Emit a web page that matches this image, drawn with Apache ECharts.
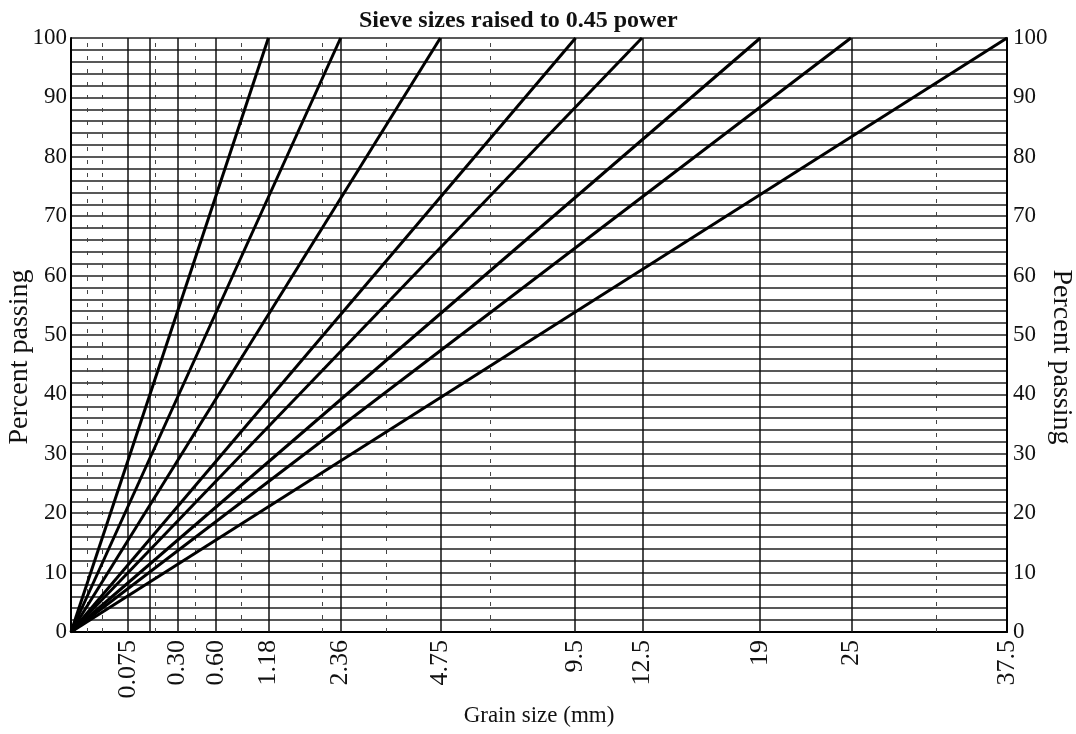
<!DOCTYPE html>
<html>
<head>
<meta charset="utf-8">
<script src="https://cdn.jsdelivr.net/npm/echarts@6/dist/echarts.min.js"></script>
<style>
html,body{margin:0;padding:0;background:#fff;}
#chart{width:1076px;height:734px;}
</style>
</head>
<body>
<div id="chart"></div>
<script>
// ---- data ----
const POWER = 0.45;
const maxSizes = [1.18, 2.36, 4.75, 9.5, 12.5, 19, 25, 37.5];          // maximum-density lines (mm)
const labeledSieves = [0.075, 0.30, 0.60, 1.18, 2.36, 4.75, 9.5, 12.5, 19, 25, 37.5];
const sieveLabels = ['0.075', '0.30', '0.60', '1.18', '2.36', '4.75', '9.5', '12.5', '19', '25', '37.5'];
const solidSieves = [0.075, 0.15, 0.30, 0.60, 1.18, 2.36, 4.75, 9.5, 12.5, 19, 25];
const dashedSieves = [0.005, 0.02, 0.18, 0.425, 0.85, 2.0, 3.35, 6.3, 31.5];
const percentStart = 0;
const percentEnd = 100;
const yTickLabels = ['0', '10', '20', '30', '40', '50', '60', '70', '80', '90', '100'];

// ---- chart ----
const t = d => Math.pow(d, POWER);
const FONT = '"Liberation Serif", "Times New Roman", serif';
const xMax = t(maxSizes[maxSizes.length - 1]);

const lineSeries = maxSizes.map(D => ({
  type: 'line',
  name: String(D),
  data: [[t(0), percentStart], [t(D), percentEnd]],
  showSymbol: false,
  symbol: 'none',
  lineStyle: { color: '#000', width: 3 },
  z: 10,
  silent: true
}));

const gridSeriesSolid = {
  type: 'line', data: [], silent: true, z: 2,
  markLine: {
    symbol: 'none', silent: true, animation: false,
    label: { show: false },
    lineStyle: { color: '#111', width: 1.5, type: 'solid' },
    data: solidSieves.map(d => ({ xAxis: t(d) }))
  }
};
const gridSeriesDashed = {
  type: 'line', data: [], silent: true, z: 2,
  markLine: {
    symbol: 'none', silent: true, animation: false,
    label: { show: false },
    lineStyle: { color: '#444', width: 1, type: [4, 9] },
    data: dashedSieves.map(d => ({ xAxis: t(d) }))
  }
};

const hLineStyle = { color: '#222', width: 1.5 };

const option = {
  animation: false,
  backgroundColor: '#fff',
  title: {
    text: 'Sieve sizes raised to 0.45 power',
    left: 354,
    top: 4,
    textStyle: { fontFamily: FONT, fontSize: 24, fontWeight: 'bold', color: '#111' }
  },
  grid: { left: 71, right: 69, top: 38, bottom: 102, containLabel: false, outerBoundsMode: 'none' },
  xAxis: {
    type: 'value',
    min: 0,
    max: xMax,
    name: 'Grain size (mm)',
    nameLocation: 'middle',
    nameGap: 72,
    nameMoveOverlap: false,
    nameTextStyle: { fontFamily: FONT, fontSize: 23, color: '#111' },
    axisLine: { show: true, lineStyle: { color: '#000', width: 2 } },
    axisTick: { show: false },
    splitLine: { show: false },
    axisLabel: {
      customValues: labeledSieves.map(t),
      rotate: 90,
      margin: 8,
      hideOverlap: false,
      fontFamily: FONT,
      fontSize: 26,
      color: '#111',
      formatter: function (v) {
        let best = 0, bd = Infinity;
        labeledSieves.forEach((d, i) => { const dd = Math.abs(t(d) - v); if (dd < bd) { bd = dd; best = i; } });
        return sieveLabels[best];
      }
    }
  },
  yAxis: [
    {
      type: 'value', min: 0, max: 100, interval: 10, position: 'left',
      name: 'Percent passing',
      nameLocation: 'middle',
      nameGap: 37,
      nameMoveOverlap: false,
      nameTextStyle: { fontFamily: FONT, fontSize: 28, color: '#111', padding: [0, 44, 0, 0] },
      axisLine: { show: true, lineStyle: { color: '#000', width: 2 } },
      axisTick: { show: false },
      axisLabel: {
        margin: 4, fontFamily: FONT, fontSize: 23, color: '#111',
        formatter: v => yTickLabels[Math.round(v / 10)]
      },
      splitLine: { show: true, lineStyle: hLineStyle },
      minorTick: { show: false, splitNumber: 5 },
      minorSplitLine: { show: true, lineStyle: hLineStyle }
    },
    {
      type: 'value', min: 0, max: 100, interval: 10, position: 'right',
      name: 'Percent passing',
      nameLocation: 'middle',
      nameGap: 40,
      nameRotate: -90,
      nameMoveOverlap: false,
      nameTextStyle: { fontFamily: FONT, fontSize: 28, color: '#111', padding: [0, 0, 0, 44] },
      axisLine: { show: true, lineStyle: { color: '#000', width: 2 } },
      axisTick: { show: false },
      axisLabel: {
        margin: 6, fontFamily: FONT, fontSize: 23, color: '#111',
        formatter: v => yTickLabels[Math.round(v / 10)]
      },
      splitLine: { show: false }
    }
  ],
  series: [gridSeriesSolid, gridSeriesDashed].concat(lineSeries)
};

const chart = echarts.init(document.getElementById('chart'), null, { renderer: 'canvas' });
chart.setOption(option);
</script>
</body>
</html>
